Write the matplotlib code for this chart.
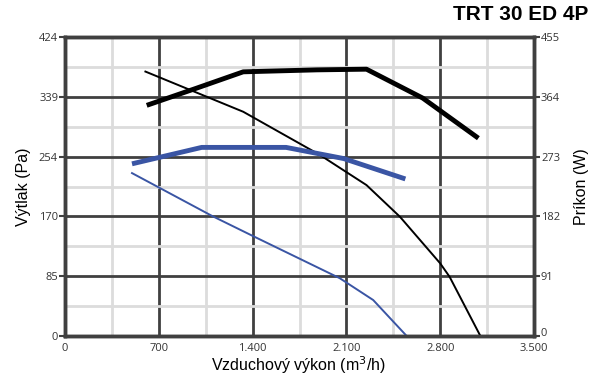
import matplotlib
matplotlib.use("Agg")
import matplotlib.pyplot as plt
from matplotlib.ticker import FixedLocator

# ---- data ----
x_ticks = [0, 700, 1400, 2100, 2800, 3500]
x_tick_labels = ["0", "700", "1.400", "2.100", "2.800", "3.500"]
y_ticks = [0, 85, 170, 254, 339, 424]
y2_ticks = [0, 91, 182, 273, 364, 455]

# large fan pressure (thin black)
p_big_flow = [600, 1330, 1900, 2250, 2500, 2800, 2870, 3100]
p_big_pa = [375, 318, 257, 214, 169, 103, 84, 0]
# large fan power (thick black, right axis)
w_big_flow = [610, 980, 1330, 1880, 2250, 2670, 3085]
w_big_w = [351, 377, 402, 405, 406, 362, 301]
# small fan pressure (thin blue)
p_small_flow = [500, 1100, 1400, 2050, 2300, 2550]
p_small_pa = [231, 170, 142, 82, 51, 0]
# small fan power (thick blue, right axis)
w_small_flow = [500, 1020, 1650, 2080, 2540]
w_small_w = [262, 287, 287, 270, 239]

title = "TRT 30 ED 4P"
xlabel = "Vzduchový výkon (m$^3$/h)"
ylabel = "Výtlak (Pa)"
y2label = "Príkon (W)"

BLUE = "#3a55a4"
DARK = "#404040"
LIGHT = "#dcdcdc"
TXT = "#333333"

plt.rcParams['font.family'] = ['Open Sans', 'DejaVu Sans']

fig = plt.figure(figsize=(6.03, 3.77), dpi=100)
ax = fig.add_axes([65/603, 41/377, 469/603, 299/377])
ax2 = ax.twinx()

ax.set_xlim(0, 3500)
ax.set_ylim(0, 424)
ax2.set_ylim(0, 455)

# grids
ax.xaxis.set_major_locator(FixedLocator(x_ticks))
ax.xaxis.set_minor_locator(FixedLocator([350, 1050, 1750, 2450, 3150]))
ax.yaxis.set_major_locator(FixedLocator(y_ticks))
ax.yaxis.set_minor_locator(FixedLocator([42.4, 127.2, 212, 296.8, 381.6]))
ax.grid(which='minor', color=LIGHT, lw=2, zorder=0)
ax.grid(which='major', color=DARK, lw=2, zorder=1)
ax.set_axisbelow(True)
ax.set_xticklabels(x_tick_labels)
ax.tick_params(which='minor', length=0)
ax.tick_params(which='major', length=4, width=1.5, color=DARK, labelsize=8, labelcolor=TXT, pad=1)
ax.tick_params(axis='x', length=0, pad=5)
ax2.yaxis.set_major_locator(FixedLocator(y2_ticks))
ax2.tick_params(length=4, width=1.5, color=DARK, labelsize=8, labelcolor=TXT, pad=1)
for lbl in ax2.get_yticklabels():
    if lbl.get_text() == "0":
        lbl.set_va('baseline')

for a in (ax, ax2):
    for s in a.spines.values():
        s.set_color(DARK)
        s.set_linewidth(2.5)

ax.plot(p_big_flow, p_big_pa, color='black', lw=1.4, zorder=3)
ax.plot(p_small_flow, p_small_pa, color=BLUE, lw=1.4, zorder=3)
ax2.plot(w_big_flow, w_big_w, color='black', lw=3.5, zorder=3, solid_capstyle='butt')
ax2.plot(w_small_flow, w_small_w, color=BLUE, lw=3.5, zorder=3, solid_capstyle='butt')

fig.text(299/603, 1 - 371/377, xlabel, ha='center', va='baseline', fontsize=11.5, color='black',
         family=['Liberation Sans', 'DejaVu Sans'])
ax.set_ylabel(ylabel, fontsize=11.5, color='black', family=['Liberation Sans', 'DejaVu Sans'], labelpad=6)
ax2.set_ylabel(y2label, fontsize=11.5, color='black', family=['Liberation Sans', 'DejaVu Sans'], labelpad=10)

fig.text(588/603, 1 - 15/377, title, ha='right', va='center', fontsize=15, fontweight='bold',
         family=['Liberation Sans', 'DejaVu Sans'])

fig.savefig("out.png", dpi=100)
